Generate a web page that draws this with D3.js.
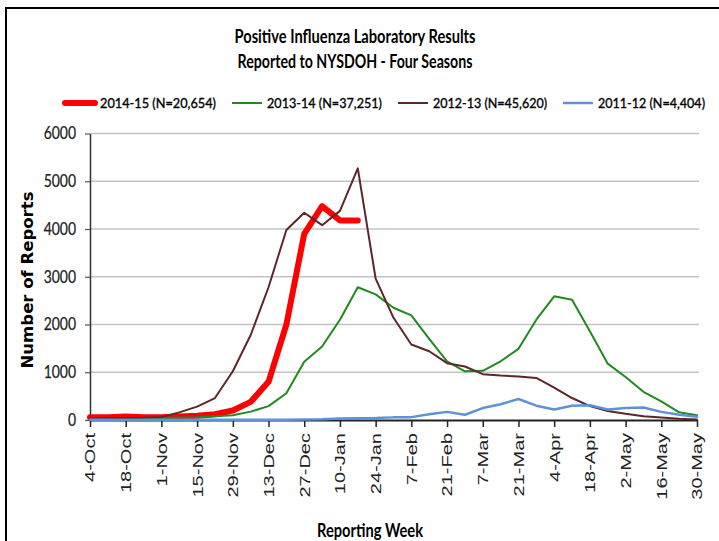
<!DOCTYPE html>
<html>
<head>
<meta charset="utf-8">
<script src="https://cdn.jsdelivr.net/npm/d3@7"></script>
<style>
  body { margin: 0; background: #fff; }
  svg { display: block; }
</style>
</head>
<body>
<div id="chart"></div>
<script>
// weekly reporting periods, season week 1 = 4-Oct
var weeks = ["4-Oct","11-Oct","18-Oct","25-Oct","1-Nov","8-Nov","15-Nov","22-Nov","29-Nov",
  "6-Dec","13-Dec","20-Dec","27-Dec","3-Jan","10-Jan","17-Jan","24-Jan","31-Jan","7-Feb",
  "14-Feb","21-Feb","28-Feb","7-Mar","14-Mar","21-Mar","28-Mar","4-Apr","11-Apr","18-Apr",
  "25-Apr","2-May","9-May","16-May","23-May","30-May"];
var tickWeeks = weeks.filter(function(d, i) { return i % 2 === 0; });
var yTicks = [0, 1000, 2000, 3000, 4000, 5000, 6000];

var seasonNames = ["2014-15 (N=20,654)", "2013-14 (N=37,251)", "2012-13 (N=45,620)", "2011-12 (N=4,404)"];

// positive lab reports per week
var s2014 = [55,60,75,60,60,75,90,120,200,380,800,2000,3900,4480,4180,4180];
var s2013 = [30,30,35,35,40,50,60,80,100,175,290,560,1220,1540,2100,2780,2630,2350,2190,
  1700,1230,1020,1030,1230,1490,2100,2590,2520,1860,1180,900,590,390,160,100];
var s2012 = [30,35,40,45,60,160,280,460,1020,1780,2780,3980,4340,4080,4380,5270,2960,2140,1580,
  1440,1190,1120,960,930,910,880,680,460,290,190,130,80,50,25,10];
var s2011 = [5,5,5,5,5,5,5,5,5,5,5,5,10,15,30,35,40,55,60,120,170,110,250,330,440,300,220,
  300,310,220,250,260,170,110,70];

var seriesValues = [s2014, s2013, s2012, s2011];
var seriesColor = ["#ff0000", "#1f8a1f", "#5e2626", "#5e92d8"];
var seriesWidth = [6, 2, 2, 2.5];

var width = 719, height = 541;

// the source image is squeezed sideways, so fit text to measured lengths
function fit(sel, w) {
  sel.attr("textLength", w).attr("lengthAdjust", "spacingAndGlyphs");
}
function squish(sel, k) {
  sel.each(function() {
    var w = this.getComputedTextLength();
    d3.select(this).attr("textLength", w * k).attr("lengthAdjust", "spacingAndGlyphs");
  });
}

var svg = d3.select("#chart").append("svg")
    .attr("width", width)
    .attr("height", height);

svg.append("rect").attr("width", width).attr("height", height).attr("fill", "#fff");
svg.append("rect")
    .attr("x", 6).attr("y", 8)
    .attr("width", 740).attr("height", 560)
    .attr("fill", "none")
    .attr("stroke", "#000")
    .attr("stroke-width", 2);

var x = d3.scalePoint().domain(weeks).range([90, 697]);
var y = d3.scaleLinear().domain([0, 6000]).range([420, 133.5]);

// title
var titleFont = "Lato, 'Open Sans', sans-serif";
svg.append("text")
    .attr("x", 355).attr("y", 43)
    .attr("text-anchor", "middle")
    .style("font-family", titleFont).style("font-weight", 700).style("font-size", "19.5px")
    .text("Positive Influenza Laboratory Results")
    .call(fit, 241);
svg.append("text")
    .attr("x", 355).attr("y", 68)
    .attr("text-anchor", "middle")
    .style("font-family", titleFont).style("font-weight", 700).style("font-size", "19.5px")
    .text("Reported to NYSDOH - Four Seasons")
    .call(fit, 235);

// gridlines
svg.append("g")
    .selectAll("line")
    .data(yTicks.slice(1))
  .enter().append("line")
    .attr("x1", 90).attr("x2", 699)
    .attr("y1", function(d) { return y(d); })
    .attr("y2", function(d) { return y(d); })
    .attr("stroke", "#c4c4c4")
    .attr("stroke-width", 1.5);

// y axis
var yAxis = svg.append("g")
    .attr("transform", "translate(90,0)")
    .call(d3.axisLeft(y).tickValues(yTicks).tickSize(5).tickSizeOuter(0).tickPadding(9)
      .tickFormat(d3.format("d")));
yAxis.select(".domain").attr("stroke", "#333").attr("stroke-width", 1.5);
yAxis.selectAll(".tick line").attr("stroke", "#555").attr("stroke-width", 1.2);
yAxis.selectAll("text")
    .style("font-family", titleFont).style("font-size", "17px").attr("fill", "#222")
    .attr("stroke", "#222").attr("stroke-width", 0.25)
    .call(squish, 0.82);

// x axis
var xAxis = svg.append("g")
    .attr("transform", "translate(0,420)")
    .call(d3.axisBottom(x).tickValues(tickWeeks).tickSize(7).tickSizeOuter(0));
xAxis.select(".domain").attr("stroke", "#222").attr("stroke-width", 2);
xAxis.selectAll(".tick line").attr("stroke", "#222").attr("stroke-width", 1.5);
xAxis.selectAll("text")
    .attr("transform", "rotate(-90)")
    .attr("x", -13).attr("y", 0).attr("dy", "0.35em")
    .style("text-anchor", "end")
    .style("font-family", "'Liberation Sans', Arial, sans-serif").style("font-size", "14px")
    .attr("fill", "#222")
    .call(squish, 1.43);

// series
var line = d3.line()
    .x(function(d, i) { return x(weeks[i]); })
    .y(function(d) { return y(d); });

svg.append("g")
    .selectAll("path")
    .data(seriesValues)
  .enter().append("path")
    .attr("d", line)
    .attr("fill", "none")
    .attr("stroke", function(d, i) { return seriesColor[i]; })
    .attr("stroke-width", function(d, i) { return seriesWidth[i]; })
    .attr("stroke-linejoin", "round")
    .attr("stroke-linecap", "round");

// legend
var legendWidths = [116, 115, 114, 107];
var lx = 65;
seasonNames.forEach(function(name, i) {
  svg.append("line")
      .attr("x1", lx).attr("x2", lx + 30)
      .attr("y1", 103).attr("y2", 103)
      .attr("stroke", seriesColor[i])
      .attr("stroke-width", seriesWidth[i])
      .attr("stroke-linecap", i === 0 ? "round" : "butt");
  svg.append("text")
      .attr("x", lx + 35).attr("y", 108)
      .style("font-family", titleFont).style("font-size", "14px").attr("fill", "#000")
      .attr("stroke", "#000").attr("stroke-width", 0.35)
      .text(name)
      .call(fit, legendWidths[i]);
  lx += 35 + legendWidths[i] + 16;
});

// axis titles
svg.append("text")
    .attr("transform", "translate(33,280) rotate(-90)")
    .attr("text-anchor", "middle")
    .style("font-family", "'DejaVu Sans', Verdana, sans-serif").style("font-weight", 700)
    .style("font-size", "16px")
    .text("Number of Reports")
    .call(fit, 177);

svg.append("text")
    .attr("x", 370).attr("y", 537)
    .attr("text-anchor", "middle")
    .style("font-family", titleFont).style("font-weight", 700).style("font-size", "18px")
    .text("Reporting Week")
    .call(fit, 106);
</script>
</body>
</html>
